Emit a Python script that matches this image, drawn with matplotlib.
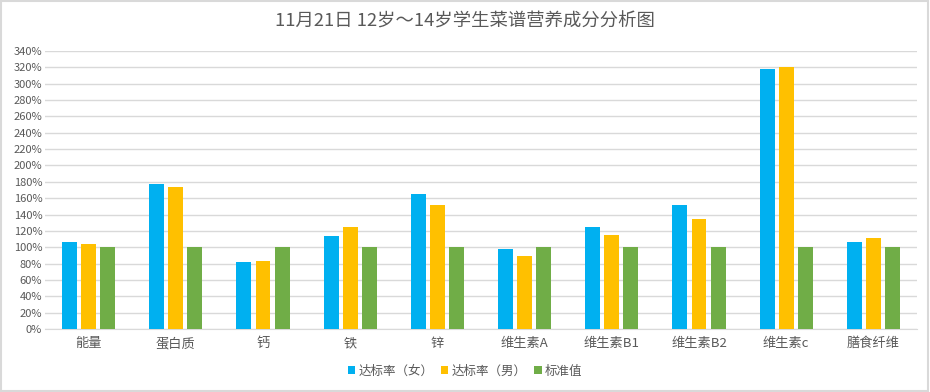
import numpy as np
import matplotlib.pyplot as plt
from matplotlib.patches import Rectangle

plt.rcParams['font.family'] = ['Noto Sans CJK SC', 'DejaVu Sans']

categories = ['能量', '蛋白质', '钙', '铁', '锌', '维生素A', '维生素B1', '维生素B2', '维生素c', '膳食纤维']
female = [107, 177, 82, 114, 165, 98, 125, 152, 318, 107]
male = [104, 174, 83, 125, 152, 89, 115, 135, 320, 111]
standard = [100, 100, 100, 100, 100, 100, 100, 100, 100, 100]
series_names = ['达标率（女）', '达标率（男）', '标准值']
colors = ['#00B0F0', '#FFC000', '#70AD47']

fig = plt.figure(figsize=(9.3, 3.92), dpi=100)
fig.patches.append(Rectangle((0.001, 0.002), 0.997, 0.995, transform=fig.transFigure,
                             fill=False, edgecolor='#D9D9D9', linewidth=1.5))
ax = fig.add_axes([45 / 930, 1 - 329 / 392, 872 / 930, 278 / 392])

x = np.arange(len(categories))
w = 0.172
step = 0.218
for i, vals in enumerate([female, male, standard]):
    ax.bar(x + (i - 1) * step, vals, width=w, color=colors[i], label=series_names[i], zorder=3)

ax.set_xlim(-0.5, len(categories) - 0.5)
ax.set_ylim(0, 340)
ax.set_yticks(np.arange(0, 341, 20))
ax.set_yticklabels([f'{v}%' for v in range(0, 341, 20)])
ax.set_xticks(x)
ax.set_xticklabels(categories)
ax.grid(axis='y', color='#D9D9D9', linewidth=1, zorder=0)
for s in ['top', 'right', 'left']:
    ax.spines[s].set_visible(False)
ax.spines['bottom'].set_color('#D9D9D9')
ax.tick_params(axis='both', length=0, colors='#595959')
ax.tick_params(axis='y', labelsize=8, pad=2)
ax.tick_params(axis='x', labelsize=9.5, pad=6)

fig.text(0.5, 1 - 22 / 392, '11月21日 12岁～14岁学生菜谱营养成分分析图', ha='center', va='center',
         fontsize=13.2, color='#595959')

leg = fig.legend(loc='center', bbox_to_anchor=(0.5, 1 - 371 / 392), ncol=3, frameon=False,
                 fontsize=9, handlelength=0.6, handleheight=0.6, handletextpad=0.25,
                 columnspacing=0.6)
for t in leg.get_texts():
    t.set_color('#595959')

fig.savefig('out.png', dpi=100)
